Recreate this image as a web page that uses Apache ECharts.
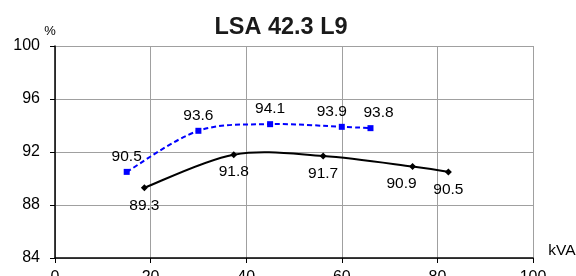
<!DOCTYPE html>
<html>
<head>
<meta charset="utf-8">
<script src="https://cdn.jsdelivr.net/npm/echarts@6/dist/echarts.min.js"></script>
<style>html,body{margin:0;padding:0;background:#fff}#c{width:576px;height:276px}</style>
</head>
<body>
<div id="c"></div>
<script>
var titleText = 'LSA 42.3 L9';
var blueX = [15, 30, 45, 60, 66];
var blueY = [90.5, 93.6, 94.1, 93.9, 93.8];
var blackX = [18.7, 37.4, 56.1, 74.8, 82.3];
var blackY = [89.3, 91.8, 91.7, 90.9, 90.5];
var xTicks = [0, 20, 40, 60, 80, 100];
var yTicks = [84, 88, 92, 96, 100];

// label nudges (style only)
var blueLabelShift = {3: -10, 4: 8};
var blackLabelShift = {3: -11};

function items(xs, ys, shift) {
  return xs.map(function (x, i) {
    var it = {value: [x, ys[i]]};
    if (shift && shift[i] !== undefined) it.label = {offset: [shift[i], 0]};
    return it;
  });
}

// Excel-like smoothed curve drawn through the axis scales
function curveSeries(xs, ys, color, dash) {
  return {
    type: 'custom', silent: true, z: 1,
    data: items(xs, ys),
    encode: {x: 0, y: 1},
    renderItem: function (params, api) {
      if (params.dataIndex !== 0) return null;
      var p = xs.map(function (x, i) { return api.coord([x, ys[i]]); });
      var n = p.length;
      var d = 'M' + p[0][0] + ' ' + p[0][1];
      for (var i = 0; i < n - 1; i++) {
        var a = p[Math.max(i - 1, 0)], b = p[i], c = p[i + 1], e = p[Math.min(i + 2, n - 1)];
        var c1 = [b[0] + (c[0] - a[0]) / 6, b[1] + (c[1] - a[1]) / 6];
        var c2 = [c[0] - (e[0] - b[0]) / 6, c[1] - (e[1] - b[1]) / 6];
        d += ' C' + c1[0] + ' ' + c1[1] + ' ' + c2[0] + ' ' + c2[1] + ' ' + c[0] + ' ' + c[1];
      }
      return {
        type: 'path', shape: {pathData: d},
        style: {stroke: color, lineWidth: 2, fill: null, lineDash: dash || null}
      };
    }
  };
}

var font = 'Liberation Sans, Arial, sans-serif';
var chart = echarts.init(document.getElementById('c'), null, {renderer: 'canvas'});
chart.setOption({
  animation: false,
  textStyle: {fontFamily: font},
  graphic: [
    {type: 'text', x: 281, y: 28, style: {text: titleText, font: 'bold 23.5px ' + font, fill: '#1a1a1a', align: 'center', verticalAlign: 'middle'}},
    {type: 'text', x: 50, y: 31, style: {text: '%', font: '13px ' + font, fill: '#000', align: 'center', verticalAlign: 'middle'}},
    {type: 'text', x: 562, y: 251, style: {text: 'kVA', font: '15.5px ' + font, fill: '#000', align: 'center', verticalAlign: 'middle'}}
  ],
  grid: {left: 55, right: 43, top: 46, bottom: 18, containLabel: false, outerBoundsMode: 'none'},
  xAxis: {
    type: 'value', min: xTicks[0], max: xTicks[xTicks.length - 1], interval: 20,
    axisLine: {show: true, onZero: false, lineStyle: {color: '#000', width: 1.5}},
    axisTick: {show: true, length: 5, lineStyle: {color: '#000'}},
    axisLabel: {fontSize: 16, color: '#000', margin: 12, fontFamily: font},
    splitLine: {show: true, lineStyle: {color: '#a0a0a0', width: 1}}
  },
  yAxis: {
    type: 'value', min: yTicks[0], max: yTicks[yTicks.length - 1], interval: 4,
    axisLine: {show: true, lineStyle: {color: '#000', width: 1.5}},
    axisTick: {show: true, length: 5, lineStyle: {color: '#000'}},
    axisLabel: {fontSize: 16, color: '#000', margin: 15, fontFamily: font},
    splitLine: {show: true, lineStyle: {color: '#a0a0a0', width: 1}}
  },
  series: [
    curveSeries(blueX, blueY, '#0000ff', [5, 3]),
    curveSeries(blackX, blackY, '#000000', null),
    {
      type: 'line', data: items(blueX, blueY, blueLabelShift), z: 3,
      symbol: 'rect', symbolSize: 6, showSymbol: true,
      lineStyle: {opacity: 0, width: 0},
      itemStyle: {color: '#0000ff'},
      label: {show: true, position: 'top', distance: 4, fontSize: 15.5, color: '#000', fontFamily: font,
        formatter: function (p) { return p.value[1].toFixed(1); }}
    },
    {
      type: 'line', data: items(blackX, blackY, blackLabelShift), z: 3,
      symbol: 'diamond', symbolSize: 7, showSymbol: true,
      lineStyle: {opacity: 0, width: 0},
      itemStyle: {color: '#000'},
      label: {show: true, position: 'bottom', distance: 6, fontSize: 15.5, color: '#000', fontFamily: font,
        formatter: function (p) { return p.value[1].toFixed(1); }}
    }
  ]
});
</script>
</body>
</html>
